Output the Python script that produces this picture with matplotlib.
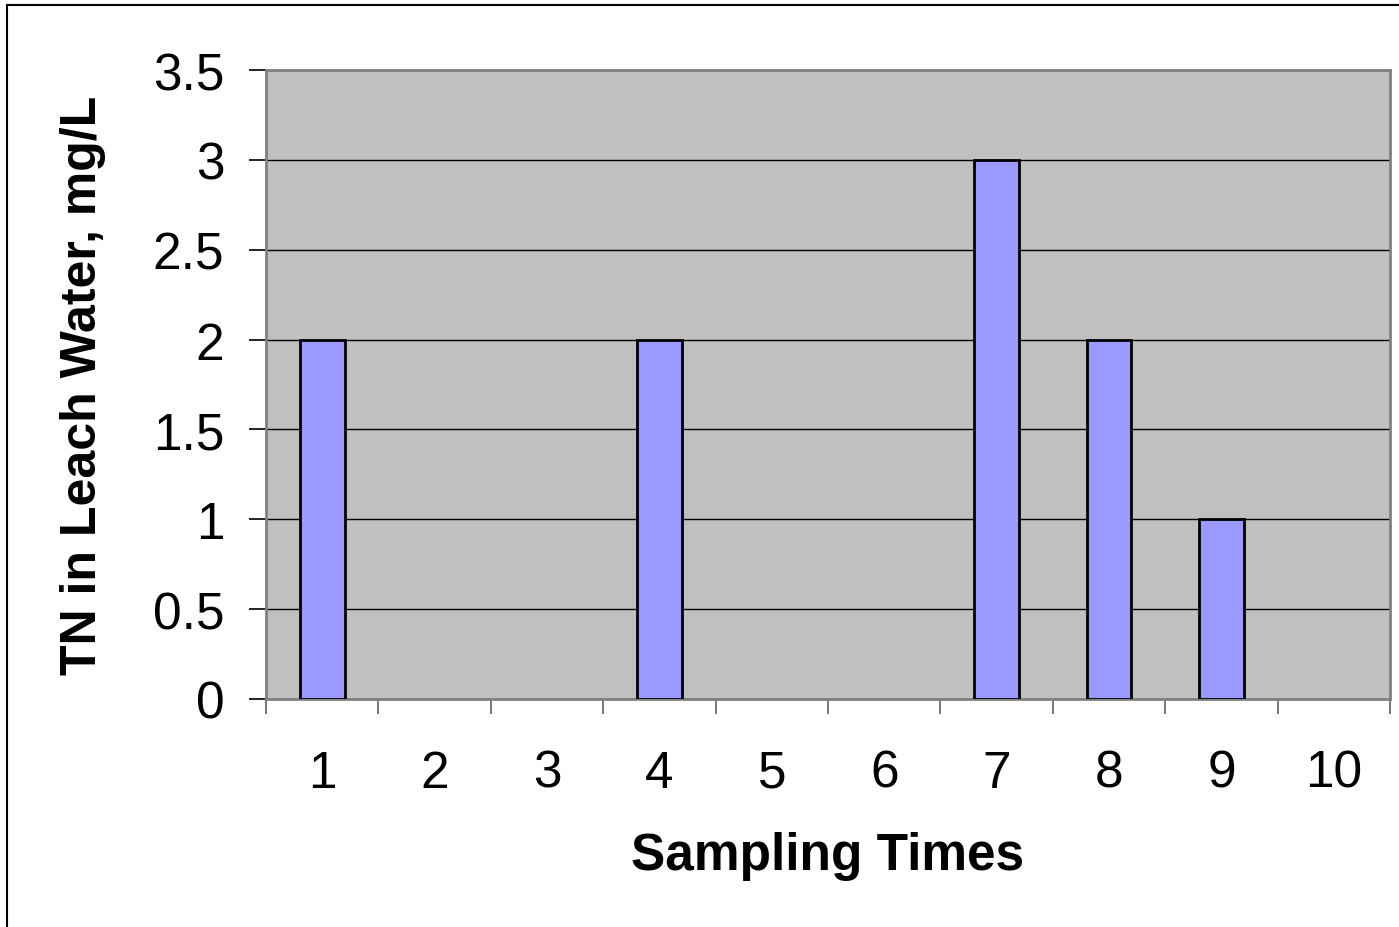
import matplotlib
matplotlib.use("Agg")
import matplotlib.pyplot as plt
import numpy as np
from matplotlib.lines import Line2D

# TN concentration in leach water per sampling time
samples = ["1", "2", "3", "4", "5", "6", "7", "8", "9", "10"]
tn_mg_l = [2, 0, 0, 2, 0, 0, 3, 2, 1, 0]
y_ticks = [0, 0.5, 1, 1.5, 2, 2.5, 3, 3.5]
y_tick_labels = ["0", "0.5", "1", "1.5", "2", "2.5", "3", "3.5"]

plt.rcParams["font.family"] = ["Liberation Sans", "DejaVu Sans"]

W, H = 1399, 928
fig = plt.figure(figsize=(W / 100, H / 100), dpi=100, facecolor="white")
ax = fig.add_axes([266 / W, 1 - 700 / H, 1124 / W, 629 / H])
ax.set_facecolor("#C0C0C0")

x = np.arange(len(samples))
# zero readings get no outline so nothing shows on the baseline
edge_w = [2 if v else 0 for v in tn_mg_l]
ax.bar(x, tn_mg_l, width=0.4, color="#9999FF", edgecolor="black", linewidth=edge_w, zorder=3)

ax.set_xlim(-0.5, len(samples) - 0.5)
ax.set_ylim(0, 3.5)
ax.set_yticks(y_ticks)
ax.set_yticklabels(y_tick_labels, fontsize=37)
ax.yaxis.grid(True, color="black", linewidth=1)
ax.set_axisbelow(True)
ax.tick_params(axis="y", direction="out", length=12, width=1.2, color="black", pad=18)

# category labels in the middle, tick marks between categories
ax.set_xticks(x)
ax.set_xticklabels(samples, fontsize=37)
ax.tick_params(axis="x", which="major", length=0, pad=36)
ax.set_xticks(np.arange(len(samples) + 1) - 0.5, minor=True)
ax.tick_params(axis="x", which="minor", direction="out", length=11, width=1.2, color="#606060")

for s in ax.spines.values():
    s.set_color("#808080")
    s.set_linewidth(2)

ax.set_xlabel("Sampling Times", fontsize=37, weight="bold", va="center")
ax.xaxis.set_label_coords(0.5, -(857 - 700) / 629)
ax.set_ylabel("TN in Leach Water, mg/L", fontsize=36, weight="bold", va="center")
ax.yaxis.set_label_coords(-(266 - 83) / 1124, 0.5)

# chart frame (left and top edges)
fig.add_artist(Line2D([7 / W, 7 / W], [0, 1 - 6 / H], color="black", linewidth=1.5))
fig.add_artist(Line2D([7 / W, 1], [1 - 6 / H, 1 - 6 / H], color="black", linewidth=1.5))

fig.savefig("out.png", dpi=100, facecolor="white")
